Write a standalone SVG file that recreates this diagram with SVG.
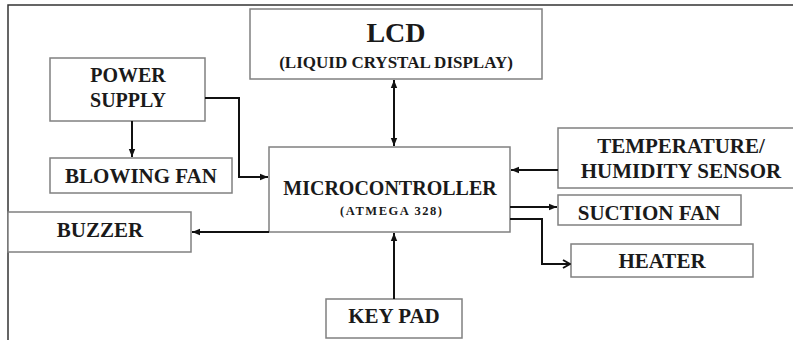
<svg xmlns="http://www.w3.org/2000/svg" width="793" height="340" viewBox="0 0 793 340">
<defs>
<style>
.box{fill:#fff;stroke:#808080;stroke-width:1.5}
.t{font-family:"Liberation Serif","Times New Roman",serif;font-weight:bold;fill:#1a1a1a;text-anchor:middle}
.c{fill:none;stroke:#111;stroke-width:2}
</style>
<marker id="ah" viewBox="0 0 10 10" refX="10" refY="5" markerWidth="4" markerHeight="4" orient="auto-start-reverse" markerUnits="strokeWidth">
<path d="M0,1 L10,5 L0,9 Z" fill="#111"/>
</marker>
<marker id="chev" viewBox="0 0 10 10" refX="9" refY="5" markerWidth="5" markerHeight="5" orient="auto" markerUnits="strokeWidth">
<path d="M2,1 L9,5 L2,9" fill="none" stroke="#111" stroke-width="2"/>
</marker>
</defs>
<rect width="793" height="340" fill="#fff"/>
<path d="M8,340 V5 H793" fill="none" stroke="#333" stroke-width="1.5"/>
<g id="lcd"><rect class="box" x="250" y="9" width="292" height="70"/>
<text class="t" x="396" y="42" font-size="28">LCD</text>
<text class="t" x="396" y="68" font-size="17">(LIQUID CRYSTAL DISPLAY)</text></g>
<g id="power"><rect class="box" x="50" y="58" width="155" height="63"/>
<text class="t" x="128" y="82" font-size="20">POWER</text>
<text class="t" x="128" y="107" font-size="20">SUPPLY</text></g>
<g id="blowing"><rect class="box" x="50" y="158" width="182" height="35"/>
<text class="t" x="141" y="183" font-size="21">BLOWING FAN</text></g>
<g id="micro"><rect class="box" x="269" y="147" width="241" height="85"/>
<text class="t" x="390" y="195" font-size="20">MICROCONTROLLER</text>
<text class="t" x="391" y="215" font-size="12.5" textLength="102" lengthAdjust="spacing">(ATMEGA 328)</text></g>
<g id="temp"><rect class="box" x="558" y="128" width="240" height="60"/>
<text class="t" x="681" y="153" font-size="21">TEMPERATURE/</text>
<text class="t" x="681" y="178" font-size="21">HUMIDITY SENSOR</text></g>
<g id="suction"><rect class="box" x="558" y="195" width="183" height="30"/>
<text class="t" x="649" y="220" font-size="21">SUCTION FAN</text></g>
<g id="heater"><rect class="box" x="571" y="244" width="182" height="33"/>
<text class="t" x="662" y="268" font-size="21">HEATER</text></g>
<g id="buzzer"><rect class="box" x="8" y="212" width="183" height="40"/>
<text class="t" x="100" y="237" font-size="21">BUZZER</text></g>
<g id="keypad"><rect class="box" x="326" y="299" width="136" height="39"/>
<text class="t" x="394" y="323" font-size="21">KEY PAD</text></g>
<g id="connectors">
<path class="c" d="M132,121 V157" marker-end="url(#ah)"/>
<path class="c" d="M205,98 H239 V177 H268" marker-end="url(#ah)"/>
<path class="c" d="M394,80 V146" marker-start="url(#ah)" marker-end="url(#ah)"/>
<path class="c" d="M558,170 H511" marker-end="url(#ah)"/>
<path class="c" d="M510,207 H557" marker-end="url(#ah)"/>
<path class="c" d="M510,219 H542 V264 H570" marker-end="url(#chev)"/>
<path class="c" d="M269,232 H192" marker-end="url(#ah)"/>
<path class="c" d="M394,299 V233" marker-end="url(#ah)"/>
</g>
</svg>
